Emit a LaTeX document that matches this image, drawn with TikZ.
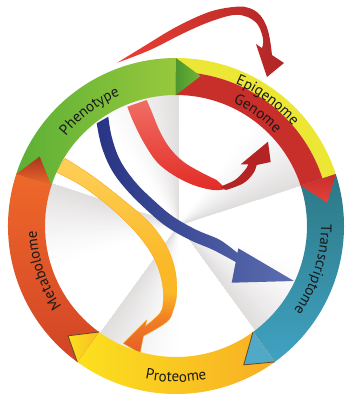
\documentclass[tikz,border=0pt]{standalone}
\usepackage{fontspec}
\setmainfont{PT Sans}
\usetikzlibrary{decorations.text}
\newcommand\labfnt{\fontsize{15}{15}\selectfont}
\newcommand\ylwribbon{plot[smooth, tension=0.6] coordinates {(-120,54) (-92.7,39.3) (-62.7,16) (-39.3,-7.3) (-22.7,-30.7) (-14.3,-54) (-12.7,-74) (-16,-87) (-30.5,-100)}
  -- (-29.3,-94) -- (-52.7,-117.3) -- (-36,-127.3)
  -- plot[smooth, tension=0.6] coordinates {(-32.5,-110) (-9.3,-96) (-2.7,-84) (0.7,-67.3) (-1,-44) (-9.3,-20.7) (-26,2.7) (-52.7,26) (-82.7,49.3) (-111,67.7)}
  -- cycle}
\definecolor{fold}{RGB}{176,168,168}
\definecolor{gA}{RGB}{92,176,54}
\definecolor{gB}{RGB}{152,200,60}
\definecolor{epiY}{RGB}{236,231,52}
\definecolor{genR}{RGB}{200,46,42}
\definecolor{tealA}{RGB}{44,120,132}
\definecolor{tealB}{RGB}{64,162,194}
\definecolor{protY}{RGB}{252,224,30}
\definecolor{protO}{RGB}{247,174,36}
\definecolor{metA}{RGB}{238,104,42}
\definecolor{metB}{RGB}{210,68,38}
\definecolor{headbrown}{RGB}{100,70,40}
\definecolor{labcol}{RGB}{25,25,25}
\definecolor{redL}{RGB}{236,64,52}
\definecolor{redM}{RGB}{226,44,38}
\definecolor{redD}{RGB}{176,38,38}
\definecolor{redT}{RGB}{240,110,100}
\definecolor{navyA}{RGB}{40,52,132}
\definecolor{navyB}{RGB}{92,110,176}
\definecolor{ylwT}{RGB}{253,208,90}
\definecolor{ylwM}{RGB}{251,184,38}
\definecolor{ylwO}{RGB}{241,128,38}
\definecolor{ylwB}{RGB}{228,90,40}
\begin{document}
\begin{tikzpicture}[x=1pt,y=1pt,
  ringlabel/.style={decorate, decoration={text along path, text align=center, text color=labcol, text={|\labfnt|#1}}},
  headedge/.style={draw=headbrown, line width=0.8pt, line join=round, line cap=round}]
\useasboundingbox (-176,-174) rectangle (173,226);
\fill[white] (-176,-174) rectangle (173,226);
% folded pinwheel
\foreach \b in {90,18,-54,-126,162}{
  \foreach \k in {24,23,...,1}{
    \pgfmathsetmacro{\p}{38*((25-\k)/24)^1.4}
    \fill[fold!\p!white] (3,1) -- ++(\b:146) arc[start angle=\b, end angle={\b+\k*1.5}, radius=146] -- cycle;
  }
}
% outer red ribbon arrow
\shade[left color=redL, middle color=redM, right color=redD]
  plot[smooth, tension=0.6] coordinates {(-58.7,163.3) (-32.7,179.3) (0.7,199.3) (34,214.3) (60.7,219.3) (74,217.7) (84,211) (90.7,199.3) (94,186) (96,171)}
  -- (108,163) -- (91,149) -- (80,182)
  -- plot[smooth, tension=0.6] coordinates {(86,178) (87.3,184) (85.7,192.7) (80.7,202.7) (70.7,209.3) (57.3,211) (34,204.3) (7.3,192.7) (-26,176) (-58.7,163.3)}
  -- cycle;
% inner red ribbon arrow
\shade[top color=redT, bottom color=redM]
  plot[smooth, tension=0.6] coordinates {(-48.7,119.3) (-42.7,104.3) (-32.7,84.3) (-19.3,64.3) (-2.7,51) (17.3,41) (37.3,36) (50,37)}
  -- plot[smooth, tension=0.6] coordinates {(40.7,46) (24,54.3) (7.3,64.3) (-6,77.7) (-16,94.3) (-24.3,114.3) (-29.3,126)}
  -- cycle;
\fill[redD!95!red]
  plot[smooth, tension=0.6] coordinates {(44,39.3) (59,46) (69,56) (72.3,61.5)}
  -- (64.7,61.7) -- (92,84.3) -- (94.7,64)
  -- plot[smooth, tension=0.6] coordinates {(80.7,61) (77.3,52.7) (67.3,42.7) (50,36)}
  -- cycle;
% blue ribbon arrow
\shade[left color=navyA, middle color=navyA!85!navyB, right color=navyB]
  plot[smooth, tension=0.6] coordinates {(-79.3,102.7) (-74.3,79.3) (-64.3,56) (-49.3,36) (-29.3,16) (-9.3,-0.7) (14,-14) (37.3,-24) (59.7,-36)}
  -- (55.7,-56.7) -- (118,-55) -- (62.3,-22.3)
  -- plot[smooth, tension=0.6] coordinates {(61.4,-27) (44,-14) (20.7,-4) (-2.7,9.3) (-22.7,26) (-41,44.3) (-56,66) (-64.3,89.3) (-67.7,109.3)}
  -- cycle;
% yellow ribbon arrow
\begin{scope}
  \clip \ylwribbon;
  \shade[top color=ylwT, bottom color=ylwM] (-130,70) rectangle (10,-40);
  \fill[ylwM] (-130,-40.2) rectangle (10,-66);
  \shade[top color=ylwM, bottom color=ylwO] (-130,-66) rectangle (10,-92);
  \shade[top color=ylwO, bottom color=ylwB] (-130,-92) rectangle (10,-130);
\end{scope}
\draw[ylwM!75!orange, line width=0.4pt] \ylwribbon;
% ring segments
\shade[left color=gA, right color=gB] (162:168) arc[start angle=162, end angle=90, radius=168] -- (90:131) arc[start angle=90, end angle=162, radius=131] -- cycle;
\fill[epiY] (90:168) arc[start angle=90, end angle=18, radius=168] -- (18:154) arc[start angle=18, end angle=90, radius=154] -- cycle;
\fill[genR] (90:154) arc[start angle=90, end angle=18, radius=154] -- (18:131) arc[start angle=18, end angle=90, radius=131] -- cycle;
\shade[top color=tealA, bottom color=tealB] (18:168) arc[start angle=18, end angle=-54, radius=168] -- (-54:131) arc[start angle=-54, end angle=18, radius=131] -- cycle;
\shade[left color=protY, right color=protO] (-54:168) arc[start angle=-54, end angle=-126, radius=168] -- (-126:131) arc[start angle=-126, end angle=-54, radius=131] -- cycle;
\shade[top color=metA, bottom color=metB] (-126:168) arc[start angle=-126, end angle=-198, radius=168] -- (162:131) arc[start angle=162, end angle=234, radius=131] -- cycle;
% ring arrowheads
\shade[left color=gA!85!black, right color=gA!70!gB] (90:168) -- (80.7:152) -- (90:131) -- cycle;
\shade[top color=genR, bottom color=redM!90!white] (18:168) -- (8.7:153) -- (18:131) -- cycle;
\fill[tealB!92!white] (-54:168) -- (-64:154.5) -- (-54:131) -- cycle;
\draw[headedge] (-54:131) -- (-64:154.5) -- (-54:168);
\shade[left color=protY, right color=protO!70!protY] (-126:168) -- (-134.5:154) -- (-126:131) -- cycle;
\draw[headedge] (-126:131) -- (-134.5:154) -- (-126:168);
\shade[top color=metB!80!black, bottom color=metA] (162:168) -- (153:153) -- (162:131) -- cycle;
% labels
\path[ringlabel=Phenotype] (157:142) arc[start angle=157, end angle=97, radius=142];
\path[ringlabel=Epigenome] (84:154) arc[start angle=84, end angle=24, radius=154];
\path[ringlabel=Genome] (84:136) arc[start angle=84, end angle=24, radius=136];
\path[ringlabel=Transcriptome] (12.5:145) arc[start angle=12.5, end angle=-47.5, radius=145];
\path[ringlabel=Proteome] (-120:156) arc[start angle=-120, end angle=-60, radius=156];
\path[ringlabel=Metabolome] (228.5:139.5) arc[start angle=228.5, end angle=168.5, radius=139.5];
\end{tikzpicture}
\end{document}
